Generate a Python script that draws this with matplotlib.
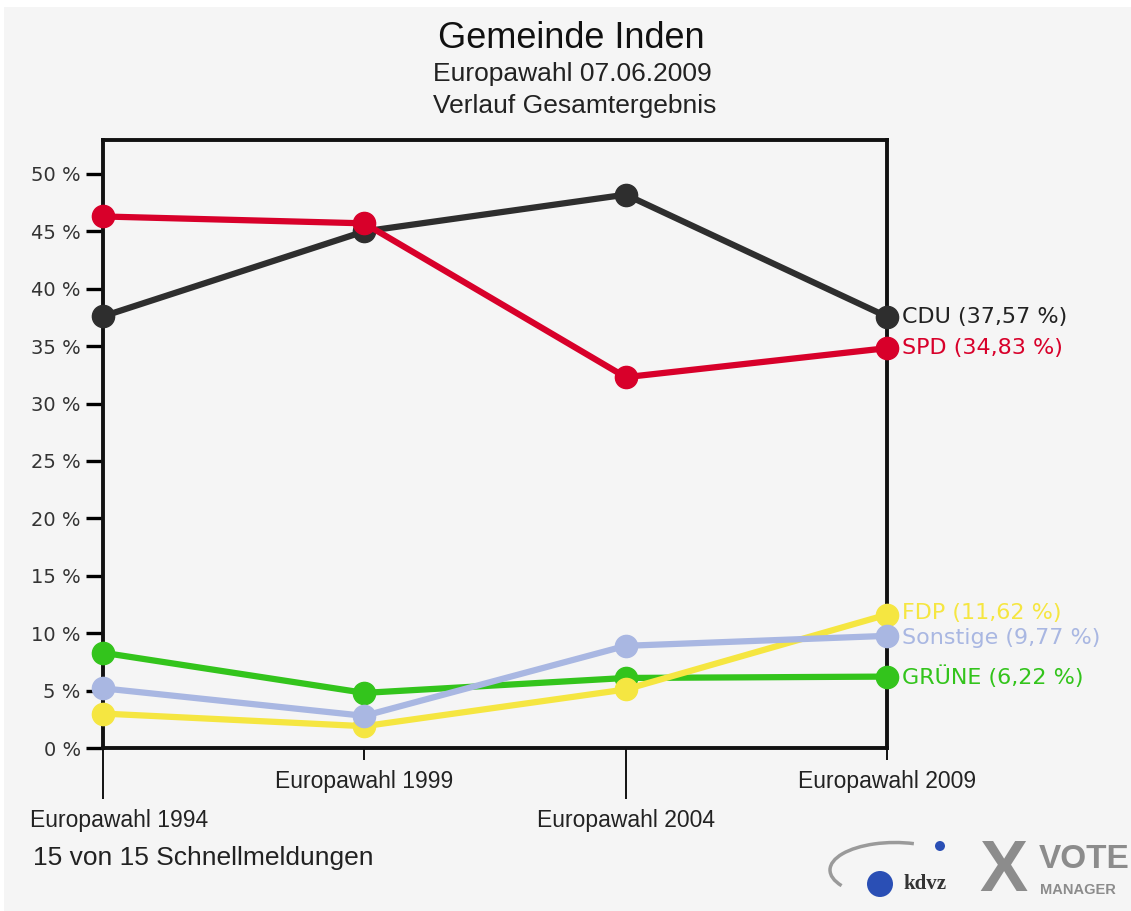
import numpy as np
import matplotlib.pyplot as plt
import matplotlib.transforms as mtransforms
from matplotlib.patches import Rectangle, Ellipse, Arc

# data
elections = ["Europawahl 1994", "Europawahl 1999", "Europawahl 2004", "Europawahl 2009"]
parties = ["CDU", "SPD", "GRÜNE", "FDP", "Sonstige"]
cdu = [37.6, 45.0, 48.2, 37.57]
spd = [46.3, 45.7, 32.3, 34.83]
gruene = [8.3, 4.8, 6.1, 6.22]
fdp = [3.0, 1.9, 5.1, 11.62]
sonstige = [5.2, 2.8, 8.9, 9.77]
final_labels = ["CDU (37,57 %)", "SPD (34,83 %)", "GRÜNE (6,22 %)", "FDP (11,62 %)", "Sonstige (9,77 %)"]
colors = ["#2e2e2e", "#d8002a", "#33c41c", "#f5e641", "#a9b7e2"]
yticks = [0, 5, 10, 15, 20, 25, 30, 35, 40, 45, 50]

W, H = 1131, 911
fig = plt.figure(figsize=(W / 100, H / 100), dpi=100, facecolor="white")
fig.patches.append(Rectangle((4 / W, 0), 1, 1 - 7 / H, transform=fig.transFigure,
                             facecolor="#f5f5f5", edgecolor="none", zorder=-10))

def px(x, y):
    return x / W, 1 - y / H

l, r, t, b = 103, 887, 140, 748
ax = fig.add_axes([l / W, 1 - b / H, (r - l) / W, (b - t) / H])
ax.set_facecolor("#f5f5f5")

series = [cdu, spd, gruene, fdp, sonstige]
label_dy = [0, 0, 0, 1.5, -1.5]  # small nudges so the two close labels don't collide
x = np.arange(len(elections))
for i, vals in enumerate(series):
    ax.plot(x, vals, color=colors[i], lw=4.5, marker="o", markersize=16,
            solid_capstyle="round", clip_on=False, zorder=3 + i)
    lab_color = colors[i] if i != 0 else "#222222"
    ax.annotate(final_labels[i], (x[-1], vals[-1]), xytext=(11, label_dy[i]), textcoords="offset points",
                va="center", ha="left", fontsize=16, color=lab_color,
                family=["DejaVu Sans"], annotation_clip=False)

ax.set_xlim(0, 3)
ax.set_ylim(0, 52.96)
ax.set_yticks(yticks)
ax.set_yticklabels(["%d %%" % v for v in yticks])
ax.tick_params(axis="y", length=12, width=2.4, pad=4, labelsize=14,
               labelcolor="#333333", direction="out")
for lbl in ax.get_yticklabels():
    lbl.set_family("DejaVu Sans")

ax.set_xticks([0, 2])
ax.set_xticklabels([elections[0], elections[2]])
ax.set_xticks([1, 3], minor=True)
ax.set_xticklabels([elections[1], elections[3]], minor=True)
ax.tick_params(axis="x", which="major", length=37, width=1.3, pad=7, labelsize=16.5)
ax.tick_params(axis="x", which="minor", length=8.5, width=1.3, pad=7, labelsize=16.5)
for lbl in ax.get_xticklabels() + ax.get_xticklabels(minor=True):
    lbl.set_family("Liberation Sans")
    lbl.set_color("#222222")
first = ax.get_xticklabels()[0]
first.set_transform(first.get_transform() + mtransforms.ScaledTranslation(16 / 100, 0, fig.dpi_scale_trans))

for s in ax.spines.values():
    s.set_linewidth(2.8)
    s.set_color("#111111")

# titles
fig.text(*px(571, 38), "Gemeinde Inden", ha="center", va="center", fontsize=26,
         family="Liberation Sans", color="#111111")
fig.text(*px(572, 74), "Europawahl 07.06.2009", ha="center", va="center", fontsize=19,
         family="Liberation Sans", color="#222222")
fig.text(*px(575, 106), "Verlauf Gesamtergebnis", ha="center", va="center", fontsize=19,
         family="Liberation Sans", color="#222222")
fig.text(*px(33, 858), "15 von 15 Schnellmeldungen", ha="left", va="center", fontsize=19,
         family="Liberation Sans", color="#222222")

# logo
fig.patches.append(Arc(px(895, 870), 130 / W, 55 / H, theta1=60, theta2=200,
                       transform=fig.transFigure, color="#9a9a9a", lw=2.5))
fig.patches.append(Ellipse(px(880, 884), 26 / W, 26 / H, transform=fig.transFigure,
                           facecolor="#2a4fb5", edgecolor="none"))
fig.patches.append(Ellipse(px(940, 846), 10 / W, 10 / H, transform=fig.transFigure,
                           facecolor="#2a4fb5", edgecolor="none"))
fig.text(*px(903, 884), "kdvz", ha="left", va="center", fontsize=15, weight="bold",
         family="Liberation Serif", color="#333333")
fig.text(*px(1003, 872), "X", ha="center", va="center", fontsize=52, weight="bold",
         family="Liberation Sans", color="#8c8c8c")
fig.text(*px(1039, 860), "VOTE", ha="left", va="center", fontsize=24, weight="bold",
         family="Liberation Sans", color="#8c8c8c")
fig.text(*px(1040, 890), "MANAGER", ha="left", va="center", fontsize=10.5, weight="bold",
         family="Liberation Sans", color="#8c8c8c")

fig.savefig("out.png", dpi=100, facecolor=fig.get_facecolor())
